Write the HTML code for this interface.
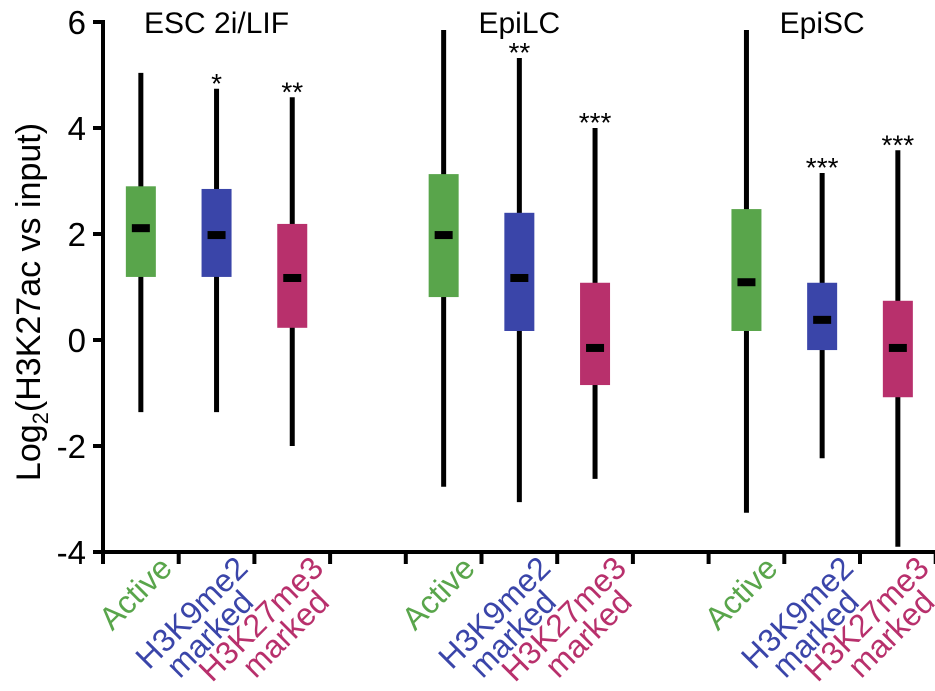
<!DOCTYPE html>
<html><head><meta charset="utf-8"><style>
html,body{margin:0;padding:0;background:#fff;}
svg{display:block;font-family:"Liberation Sans",sans-serif;}
</style></head><body>
<svg id="chart" width="935" height="691" viewBox="0 0 935 691" xmlns="http://www.w3.org/2000/svg"></svg>
<script>
const groups = ["ESC 2i/LIF", "EpiLC", "EpiSC"];
const categories = ["Active", "H3K9me2 marked", "H3K27me3 marked"];
const whiskerHigh = [5.04, 4.74, 4.58, 5.85, 5.32, 4.0, 5.85, 3.15, 3.58];
const q3Values = [2.9, 2.85, 2.19, 3.13, 2.4, 1.08, 2.47, 1.08, 0.74];
const medians = [2.11, 1.98, 1.17, 1.98, 1.17, -0.15, 1.09, 0.38, -0.15];
const q1Values = [1.19, 1.19, 0.23, 0.81, 0.17, -0.85, 0.17, -0.19, -1.08];
const whiskerLow = [-1.36, -1.36, -2.0, -2.77, -3.06, -2.62, -3.26, -2.23, -3.9];
const significance = ["", "*", "**", "", "**", "***", "", "***", "***"];
const yTicks = [6, 4, 2, 0, -2, -4];

const NS = "http://www.w3.org/2000/svg";
const svg = document.getElementById("chart");
const colors = ["#59a54b", "#3a45a9", "#b8306c"];
const y = v => 340 - v * 53;
const slot = 75.7, x0 = 103;
const xPos = i => x0 + (Math.floor(i / 3) * 4 + (i % 3) + 0.5) * slot;
function mk(tag, attrs, parent) {
  const e = document.createElementNS(NS, tag);
  for (const k in attrs) e.setAttribute(k, attrs[k]);
  (parent || svg).appendChild(e);
  return e;
}

let ax = mk("line", {x1: x0, y1: y(6) - 2, x2: x0, y2: y(-4) + 2, stroke: "#000", "stroke-width": 4});


let xa = mk("line", {x1: x0 - 2, y1: y(-4), x2: 935, y2: y(-4), stroke: "#000", "stroke-width": 4});


for (let k = 0; k <= 11; k++) {
  const t = mk("line", {x1: x0 + k * slot, y1: y(-4), x2: x0 + k * slot, y2: y(-4) + 12, stroke: "#000", "stroke-width": 4});
  
  
}
yTicks.forEach(v => {
  const t = mk("line", {x1: x0 - 10, y1: y(v), x2: x0, y2: y(v), stroke: "#000", "stroke-width": 4});
  
  
  const l = mk("text", {x: 86, y: y(v) + 12, "text-anchor": "end", "font-size": 33});
  l.textContent = String(v);
  
  
});
const yt = mk("text", {transform: "translate(40,302) rotate(-90)", "text-anchor": "middle", "font-size": 34});


yt.innerHTML = 'Log<tspan font-size="22" dy="8">2</tspan><tspan dy="-8">(H3K27ac vs input)</tspan>';

groups.forEach((g, gi) => {
  const t = mk("text", {x: xPos(gi * 3 + 1), y: 33, "text-anchor": "middle", "font-size": 30});
  t.textContent = g;
  
  
});

medians.forEach((m, i) => {
  const cx = xPos(i), c = colors[i % 3];
  const w = mk("line", {x1: cx, y1: y(whiskerHigh[i]), x2: cx, y2: y(whiskerLow[i]), stroke: "#000", "stroke-width": 5});
  
  
  const b = mk("rect", {x: cx - 15, y: y(q3Values[i]), width: 30, height: y(q1Values[i]) - y(q3Values[i]), fill: c});
  
  
  const md = mk("rect", {x: cx - 9, y: y(m) - 4, width: 18, height: 8, fill: "#000"});
  
  
  if (significance[i]) {
    const s = mk("text", {x: cx, y: y(whiskerHigh[i]) + 4, "text-anchor": "middle", "font-size": 28});
    s.textContent = significance[i];
    
    
  }
  const parts = categories[i % 3].split(" ");
  const gl = mk("g", {transform: `translate(${cx + 33},570) rotate(-45)`, fill: c, "font-size": 32});
  
  
  const l1 = mk("text", {x: 0, y: 0, "text-anchor": "end"}, gl);
  l1.textContent = parts[0];
  if (parts[1]) {
    const l2 = mk("text", {x: -20, y: 28, "text-anchor": "end"}, gl);
    l2.textContent = parts[1];
  }
});
</script>
</body></html>
